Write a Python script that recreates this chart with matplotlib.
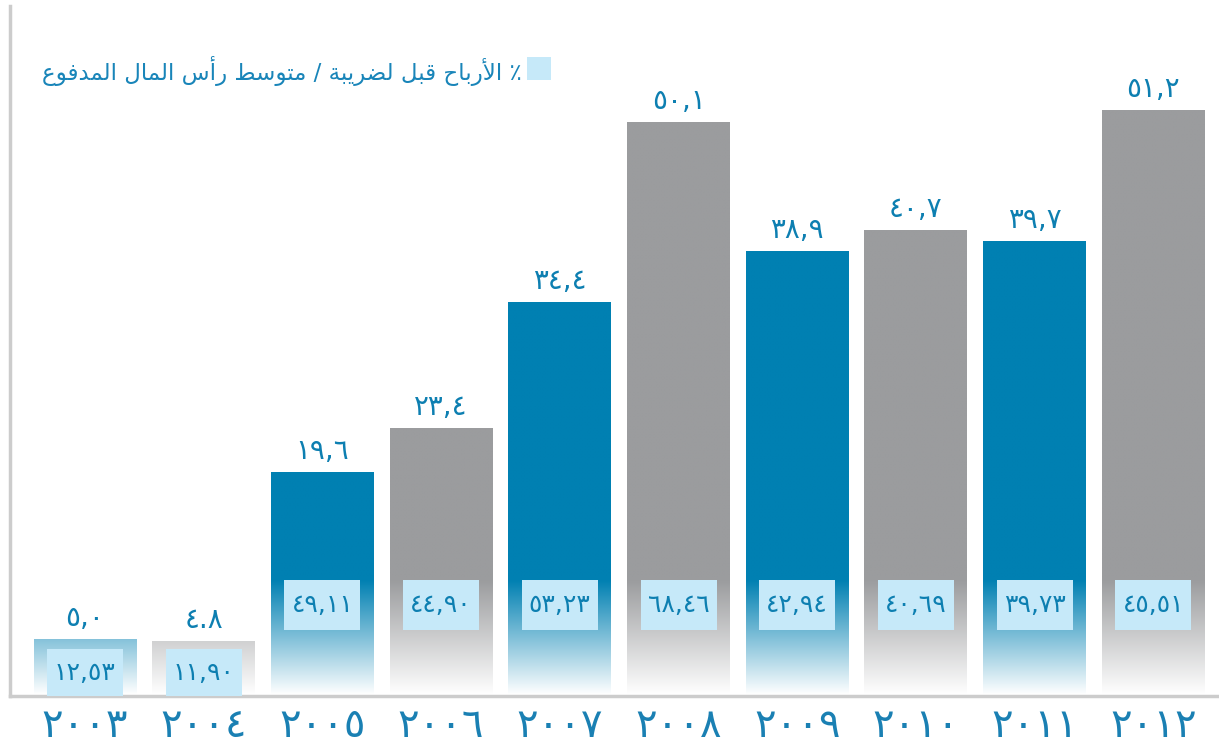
import numpy as np
import matplotlib
matplotlib.use("Agg")
from matplotlib import pyplot as plt
from matplotlib.patches import Rectangle
from matplotlib.colors import to_rgb
import matplotlib.transforms as mtransforms

plt.rcParams['font.family'] = ['DejaVu Sans']

# data
years = ["٢٠٠٣", "٢٠٠٤", "٢٠٠٥", "٢٠٠٦", "٢٠٠٧", "٢٠٠٨", "٢٠٠٩", "٢٠١٠", "٢٠١١", "٢٠١٢"]
values = [5.0, 4.8, 19.6, 23.4, 34.4, 50.1, 38.9, 40.7, 39.7, 51.2]
value_labels = ["٥,٠", "٤.٨", "١٩,٦", "٢٣,٤", "٣٤,٤", "٥٠,١", "٣٨,٩", "٤٠,٧", "٣٩,٧", "٥١,٢"]
box_labels = ["١٢,٥٣", "١١,٩٠", "٤٩,١١", "٤٤,٩٠", "٥٣,٢٣", "٦٨,٤٦", "٤٢,٩٤", "٤٠,٦٩", "٣٩,٧٣", "٤٥,٥١"]
bar_kind = ["blue", "gray", "blue", "gray", "blue", "gray", "blue", "gray", "blue", "gray"]
legend_label = "٪ الأرباح قبل لضريبة / متوسط رأس المال المدفوع"

BLUE = "#0080b2"
GRAY = "#9b9c9e"
BOX = "#c6e9f9"
TEXT = "#0d7fb1"

# isolated, final, initial, medial
FORMS = {
    'ا': ('\uFE8D', '\uFE8E', None, None),
    'أ': ('\uFE83', '\uFE84', None, None),
    'ب': ('\uFE8F', '\uFE90', '\uFE91', '\uFE92'),
    'ة': ('\uFE93', '\uFE94', None, None),
    'ت': ('\uFE95', '\uFE96', '\uFE97', '\uFE98'),
    'ح': ('\uFEA1', '\uFEA2', '\uFEA3', '\uFEA4'),
    'د': ('\uFEA9', '\uFEAA', None, None),
    'ر': ('\uFEAD', '\uFEAE', None, None),
    'س': ('\uFEB1', '\uFEB2', '\uFEB3', '\uFEB4'),
    'ض': ('\uFEBD', '\uFEBE', '\uFEBF', '\uFEC0'),
    'ط': ('\uFEC1', '\uFEC2', '\uFEC3', '\uFEC4'),
    'ع': ('\uFEC9', '\uFECA', '\uFECB', '\uFECC'),
    'ف': ('\uFED1', '\uFED2', '\uFED3', '\uFED4'),
    'ق': ('\uFED5', '\uFED6', '\uFED7', '\uFED8'),
    'ل': ('\uFEDD', '\uFEDE', '\uFEDF', '\uFEE0'),
    'م': ('\uFEE1', '\uFEE2', '\uFEE3', '\uFEE4'),
    'و': ('\uFEED', '\uFEEE', None, None),
    'ي': ('\uFEF1', '\uFEF2', '\uFEF3', '\uFEF4'),
    'لا': ('\uFEFB', '\uFEFC', None, None),
    'لأ': ('\uFEF7', '\uFEF8', None, None),
}


def shape(text):
    # join letters into presentation forms, then flip to visual order
    chars = []
    i = 0
    while i < len(text):
        if text[i] == 'ل' and i + 1 < len(text) and text[i + 1] in 'اأ':
            chars.append(text[i:i + 2])
            i += 2
        else:
            chars.append(text[i])
            i += 1

    def joins_next(c):
        return c in FORMS and FORMS[c][2] is not None

    out = []
    for i, c in enumerate(chars):
        if c not in FORMS:
            out.append(c)
            continue
        p = i > 0 and joins_next(chars[i - 1])
        n = joins_next(c) and i + 1 < len(chars) and chars[i + 1] in FORMS
        iso, fin, ini, med = FORMS[c]
        if p and n:
            out.append(med)
        elif p:
            out.append(fin)
        elif n:
            out.append(ini)
        else:
            out.append(iso)
    return ''.join(reversed(out))


def fade(color, fade_top, n=200, top=60.0):
    # vertical gradient: solid above fade_top, linear to white at 0
    ys = np.linspace(0, top, n)
    a = np.clip(ys / fade_top, 0, 1)
    c = np.array(to_rgb(color))
    img = 1 - a[:, None] * (1 - c[None, :])
    return img[:, None, :]


W, H = 1219, 744
fig = plt.figure(figsize=(W / 100, H / 100), dpi=100)
ax = fig.add_axes([10 / W, (H - 696) / H, 1 - 10 / W, 690 / H])

x = np.arange(len(years))
step = 118.7
width = 103 / step
ax.set_xlim((10 - 85) / step, (W - 85) / step)
ax.set_ylim(0, 690 / 11.45)

for xi, v, kind in zip(x, values, bar_kind):
    col = BLUE if kind == "blue" else GRAY
    top = 60.0
    im = ax.imshow(fade(col, 10.0, top=top), extent=[xi - width / 2, xi + width / 2, 0, top],
                   origin="lower", aspect="auto", interpolation="bilinear", zorder=2)
    clip = Rectangle((xi - width / 2, 0), width, v, transform=ax.transData)
    im.set_clip_path(clip)

box_w = 76 / step
for xi, v, lab, blab in zip(x, values, value_labels, box_labels):
    if v > 10:
        b0, b1 = 5.76, 10.1
    else:
        b0, b1 = 0.0, 4.1
    ax.add_patch(Rectangle((xi - box_w / 2, b0), box_w, b1 - b0, facecolor=BOX,
                           edgecolor="none", zorder=3))
    ax.text(xi, (b0 + b1) / 2, blab, ha="center", va="center", fontsize=18,
            color=TEXT, zorder=4)
    ax.annotate(lab, (xi, v), xytext=(0, 5), textcoords="offset points",
                ha="center", va="bottom", fontsize=20, color=TEXT, zorder=4)

trans = mtransforms.blended_transform_factory(ax.transData, fig.transFigure)
for xi, yr in zip(x, years):
    ax.text(xi, 1 - 706 / H, yr, ha="center", va="top", fontsize=29,
            color="#1a80b3", transform=trans, clip_on=False)

ax.set_xticks([])
ax.set_yticks([])
for s in ["top", "right"]:
    ax.spines[s].set_visible(False)
for s in ["left", "bottom"]:
    ax.spines[s].set_color("#cccccc")
    ax.spines[s].set_linewidth(2.5)

fig.patches.append(Rectangle((527 / W, 1 - 80 / H), 24 / W, 23 / H, facecolor=BOX,
                             edgecolor="none", transform=fig.transFigure))
fig.text(522 / W, 1 - 71 / H, shape(legend_label), ha="right", va="center",
         fontsize=16.5, color="#1985b9")

fig.savefig("out.png", dpi=100)
